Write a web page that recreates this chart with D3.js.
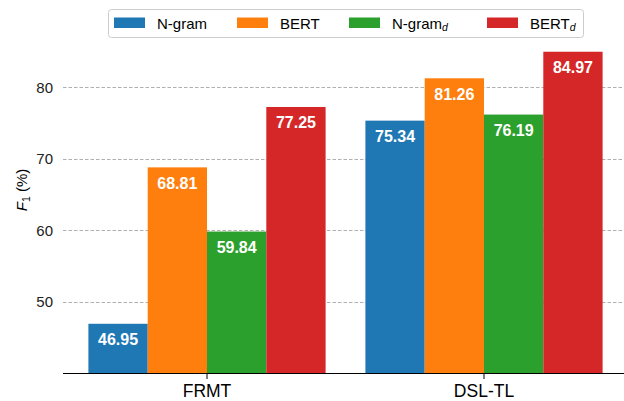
<!DOCTYPE html>
<html><head><meta charset="utf-8">
<script src="https://cdn.jsdelivr.net/npm/d3@7"></script>
<style>body{margin:0;background:#fff;} text{font-family:"Liberation Sans",Arial,sans-serif;}</style>
</head><body>
<svg id="c" width="624" height="401"></svg>
<script>
const categories = ["FRMT", "DSL-TL"];
const seriesNames = ["N-gram", "BERT", "N-gram", "BERT"];
const seriesSubs = ["", "", "d", "d"];
const ngram = [46.95, 75.34];
const bert = [68.81, 81.26];
const ngramD = [59.84, 76.19];
const bertD = [77.25, 84.97];
const yTicks = [50, 60, 70, 80];
const colors = ["#1f77b4", "#ff7f0e", "#2ca02c", "#d62728"];
const series = [ngram, bert, ngramD, bertD];

const svg = d3.select("#c");
const x = d3.scaleLinear().domain([0, 1]).range([207, 484]);
const y = d3.scaleLinear().domain([40, 80]).range([373.5, 87.3]);
const barW = 59.3 / 277;
const offsets = [-1.5, -0.5, 0.5, 1.5];

// grid
svg.append("g").selectAll("line").data(yTicks).join("line")
  .attr("x1", 63).attr("x2", 624)
  .attr("y1", d => Math.round(y(d)) + 0.5).attr("y2", d => Math.round(y(d)) + 0.5)
  .attr("stroke", "#b0b0b0").attr("stroke-width", 1).attr("stroke-dasharray", "3.5,2");

// y labels
svg.append("g").selectAll("text").data(yTicks).join("text")
  .attr("x", 53).attr("y", d => y(d)).attr("dy", "0.36em")
  .attr("text-anchor", "end").attr("font-size", 15).attr("fill", "#222")
  .text(d => d);

// bars
series.forEach((vals, si) => {
  const g = svg.append("g");
  g.selectAll("rect").data(vals).join("rect")
    .attr("x", (d, i) => x(i + (offsets[si] - 0.5) * barW))
    .attr("width", x(barW) - x(0))
    .attr("y", d => y(d))
    .attr("height", d => y(40) - y(d))
    .attr("fill", colors[si]);
  g.selectAll("text").data(vals).join("text")
    .attr("x", (d, i) => x(i + offsets[si] * barW))
    .attr("y", d => y(d) + 21.5)
    .attr("text-anchor", "middle").attr("font-size", 16).attr("font-weight", "bold")
    .attr("fill", "#fff")
    .text(d => d.toFixed(2));
});

// x axis
svg.append("line").attr("x1", 63).attr("x2", 624).attr("y1", 373.5).attr("y2", 373.5)
  .attr("stroke", "#000").attr("stroke-width", 1);
svg.append("g").selectAll("line").data(categories).join("line")
  .attr("x1", (d, i) => x(i)).attr("x2", (d, i) => x(i))
  .attr("y1", 373.5).attr("y2", 379).attr("stroke", "#000");
svg.append("g").selectAll("text").data(categories).join("text")
  .attr("x", (d, i) => x(i)).attr("y", 397)
  .attr("text-anchor", "middle").attr("font-size", 17.5).attr("fill", "#000")
  .text(d => d);

// y label
const yl = svg.append("text").attr("transform", "translate(27,190) rotate(-90)")
  .attr("text-anchor", "middle").attr("font-size", 15).attr("fill", "#000");
yl.append("tspan").attr("font-style", "italic").text("F");
yl.append("tspan").attr("font-size", 10.5).attr("dy", 3).text("1");
yl.append("tspan").attr("dy", -3).text(" (%)");

// legend
const lg = svg.append("g");
lg.append("rect").attr("x", 108.5).attr("y", 9.5).attr("width", 475).attr("height", 28)
  .attr("rx", 3).attr("fill", "#fff").attr("stroke", "#cccccc").attr("stroke-width", 1);
const swX = [114, 237, 349, 487];
seriesNames.forEach((n, i) => {
  lg.append("rect").attr("x", swX[i]).attr("y", 17.5).attr("width", 31).attr("height", 10.5)
    .attr("fill", colors[i]);
  const t = lg.append("text").attr("x", swX[i] + 43).attr("y", 28.5)
    .attr("font-size", 15).attr("fill", "#000");
  t.append("tspan").text(n);
  if (seriesSubs[i]) {
    t.append("tspan").attr("font-size", 10.5).attr("font-style", "italic").attr("dy", 2).text(seriesSubs[i]);
  }
});
</script>
</body></html>
